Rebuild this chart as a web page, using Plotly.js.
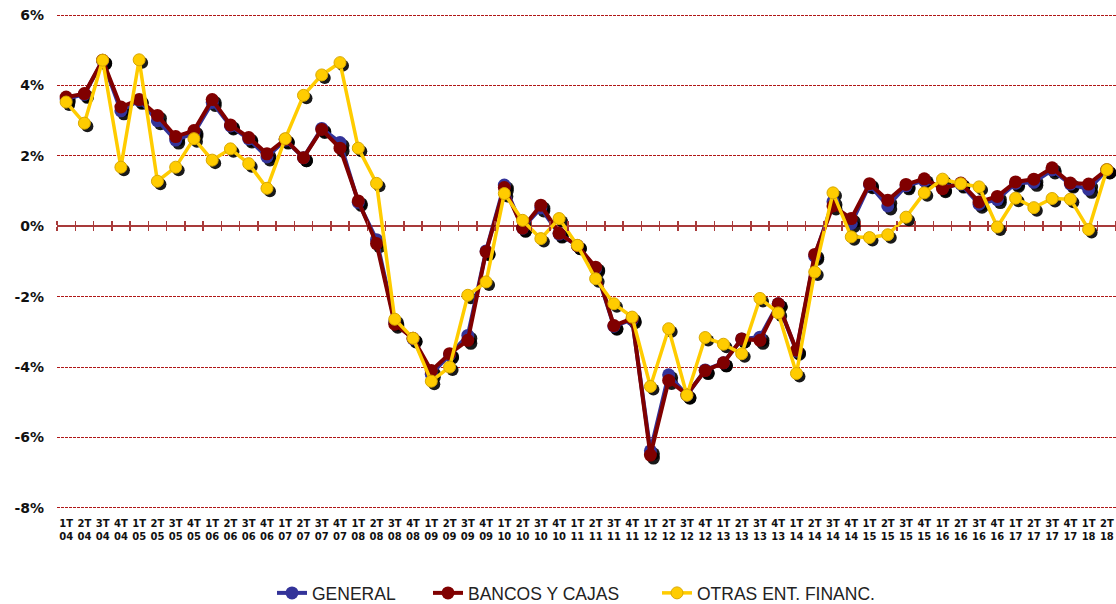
<!DOCTYPE html>
<html><head><meta charset="utf-8">
<script src="https://cdn.plot.ly/plotly-3.0.1.min.js"></script>
<style>html,body{margin:0;padding:0;background:#fff}#chart{width:1116px;height:604px}</style>
</head><body><div id="chart"></div>
<script>
const categories = ['1T04','2T04','3T04','4T04','1T05','2T05','3T05','4T05','1T06','2T06','3T06','4T06',
  '1T07','2T07','3T07','4T07','1T08','2T08','3T08','4T08','1T09','2T09','3T09','4T09',
  '1T10','2T10','3T10','4T10','1T11','2T11','3T11','4T11','1T12','2T12','3T12','4T12',
  '1T13','2T13','3T13','4T13','1T14','2T14','3T14','4T14','1T15','2T15','3T15','4T15',
  '1T16','2T16','3T16','4T16','1T17','2T17','3T17','4T17','1T18','2T18'];
const general = [3.62,3.75,4.70,3.28,3.58,3.00,2.45,2.65,3.52,2.85,2.48,1.97,
  2.45,1.95,2.78,2.38,0.68,-0.38,-2.72,-3.20,-4.20,-3.65,-3.10,-0.70,
  1.17,-0.05,0.52,-0.22,-0.55,-1.20,-2.84,-2.65,-6.38,-4.22,-4.80,-4.08,
  -3.88,-3.20,-3.15,-2.20,-3.55,-0.85,0.70,0.08,1.18,0.58,1.15,1.30,
  1.10,1.20,0.63,0.76,1.22,1.25,1.60,1.20,1.05,1.60];
const bancosCajas = [3.67,3.77,4.72,3.39,3.60,3.15,2.55,2.72,3.60,2.88,2.52,2.06,
  2.47,1.95,2.75,2.22,0.72,-0.49,-2.78,-3.18,-4.10,-3.62,-3.24,-0.72,
  1.10,-0.05,0.60,-0.20,-0.55,-1.16,-2.82,-2.62,-6.50,-4.38,-4.78,-4.10,
  -3.88,-3.20,-3.24,-2.20,-3.52,-0.80,0.58,0.22,1.21,0.74,1.19,1.35,
  1.07,1.23,0.69,0.85,1.26,1.34,1.66,1.23,1.20,1.61];
const otras = [3.53,2.93,4.72,1.68,4.73,1.28,1.68,2.49,1.88,2.20,1.78,1.08,
  2.49,3.72,4.30,4.65,2.22,1.22,-2.64,-3.18,-4.40,-4.00,-1.96,-1.58,
  0.93,0.17,-0.35,0.22,-0.54,-1.49,-2.20,-2.58,-4.55,-2.91,-4.80,-3.16,
  -3.35,-3.62,-2.05,-2.46,-4.18,-1.30,0.95,-0.30,-0.32,-0.24,0.26,0.95,
  1.34,1.21,1.12,-0.02,0.80,0.53,0.79,0.77,-0.09,1.61];
const seriesNames = ['GENERAL','BANCOS Y CAJAS','OTRAS ENT. FINANC.'];
const yTickVals = [-8,-6,-4,-2,0,2,4,6];

const W = 1116, H = 604, ML = 57, MR = 0, MT = 13, MB = 94;
const plotW = W - ML - MR, plotH = H - MT - MB;
const n = categories.length;
const yMin = -8.06, yMax = 6.06;
const shadowPx = 3;
const dx = shadowPx * n / plotW;
const dy = shadowPx * (yMax - yMin) / plotH;

const colors = ['#333399', '#800000', '#FFCC00'];
const series = [general, bancosCajas, otras];
const lineW = [4, 4, 3.5];
const mSize = [13, 13, 12];
const legendIds = ['legend', 'legend2', 'legend3'];

const traces = [];
// empty traces so the tick-only axes on the zero line get their subplots
['3', '4'].forEach(id => {
  traces.push({type: 'scatter', mode: 'markers', x: [], y: [], xaxis: 'x' + id, yaxis: 'y' + id,
    showlegend: false, hoverinfo: 'skip'});
});
series.forEach((s, k) => {
  traces.push({
    type: 'scatter', mode: 'markers', x: categories, y: s, xaxis: 'x', yaxis: 'y',
    marker: {color: '#000', size: mSize[k], opacity: 0.9},
    showlegend: false, hoverinfo: 'skip'
  });
});
series.forEach((s, k) => {
  traces.push({
    type: 'scatter', mode: 'lines+markers', name: seriesNames[k], x: categories, y: s,
    xaxis: 'x2', yaxis: 'y2', legend: legendIds[k],
    line: {color: colors[k], width: lineW[k]},
    marker: {color: colors[k], size: mSize[k], line: {color: k === 2 ? '#D9A800' : colors[k], width: k === 2 ? 1 : 0}}
  });
});

const gridColor = '#B01818';
const axisRed = '#A83A3A';
const zeroFrac = (0 - yMin) / (yMax - yMin);
const legendFont = {family: '"Liberation Sans", Arial, sans-serif', size: 17.5, color: '#222'};
const legY = (H - MB - 593) / plotH;
function legendAt(px) {
  return {x: (px - ML) / plotW, y: legY, xanchor: 'left', yanchor: 'middle', orientation: 'h',
    bgcolor: 'rgba(0,0,0,0)', borderwidth: 0, font: legendFont};
}
const tickAxisBase = {range: [-0.5, n - 0.5], type: 'linear', tickmode: 'linear', tick0: -0.5, dtick: 1,
  ticks: 'outside', ticklen: 4, tickwidth: 1.5, tickcolor: axisRed, showticklabels: false,
  showline: false, showgrid: false, zeroline: false, fixedrange: true, autorange: false};

const layout = {
  width: W, height: H,
  margin: {l: ML, r: MR, t: MT, b: MB, autoexpand: false},
  paper_bgcolor: '#fff', plot_bgcolor: 'rgba(0,0,0,0)',
  showlegend: true,
  xaxis: {type: 'category', visible: false, showgrid: false, range: [-0.5 - dx, n - 0.5 - dx], fixedrange: true},
  yaxis: {visible: false, showgrid: false, range: [yMin + dy, yMax + dy], fixedrange: true},
  xaxis2: {type: 'category', overlaying: 'x', anchor: 'y2', range: [-0.5, n - 0.5],
    tickmode: 'array', tickvals: categories,
    ticktext: categories.map(c => c.slice(0, 2) + '<br>' + c.slice(2)),
    ticks: '', showline: false, showgrid: false, zeroline: false, ticklabelstandoff: 6,
    tickfont: {family: '"DejaVu Sans", Verdana, sans-serif', size: 10, weight: 'bold', color: '#111'}},
  yaxis2: {overlaying: 'y', anchor: 'x2', side: 'left', range: [yMin, yMax],
    tickmode: 'array', tickvals: yTickVals, ticktext: yTickVals.map(v => v + '%'),
    showgrid: true, gridcolor: gridColor, gridwidth: 1, griddash: '3px,1px',
    zeroline: true, zerolinecolor: axisRed, zerolinewidth: 2,
    showline: false, ticks: '', ticklabelstandoff: 12,
    tickfont: {family: '"DejaVu Sans", Verdana, sans-serif', size: 14, weight: 'bold', color: '#111'}},
  xaxis3: Object.assign({}, tickAxisBase, {anchor: 'y3', side: 'bottom'}),
  yaxis3: {anchor: 'x3', domain: [zeroFrac, 1], range: [0, 1], autorange: false, visible: false, showgrid: false, fixedrange: true},
  xaxis4: Object.assign({}, tickAxisBase, {anchor: 'y4', side: 'top'}),
  yaxis4: {anchor: 'x4', domain: [0, zeroFrac], range: [0, 1], autorange: false, visible: false, showgrid: false, fixedrange: true},
  legend: legendAt(272),
  legend2: legendAt(428),
  legend3: legendAt(657)
};

Plotly.newPlot('chart', traces, layout, {displayModeBar: false, staticPlot: true});
</script>
</body></html>
